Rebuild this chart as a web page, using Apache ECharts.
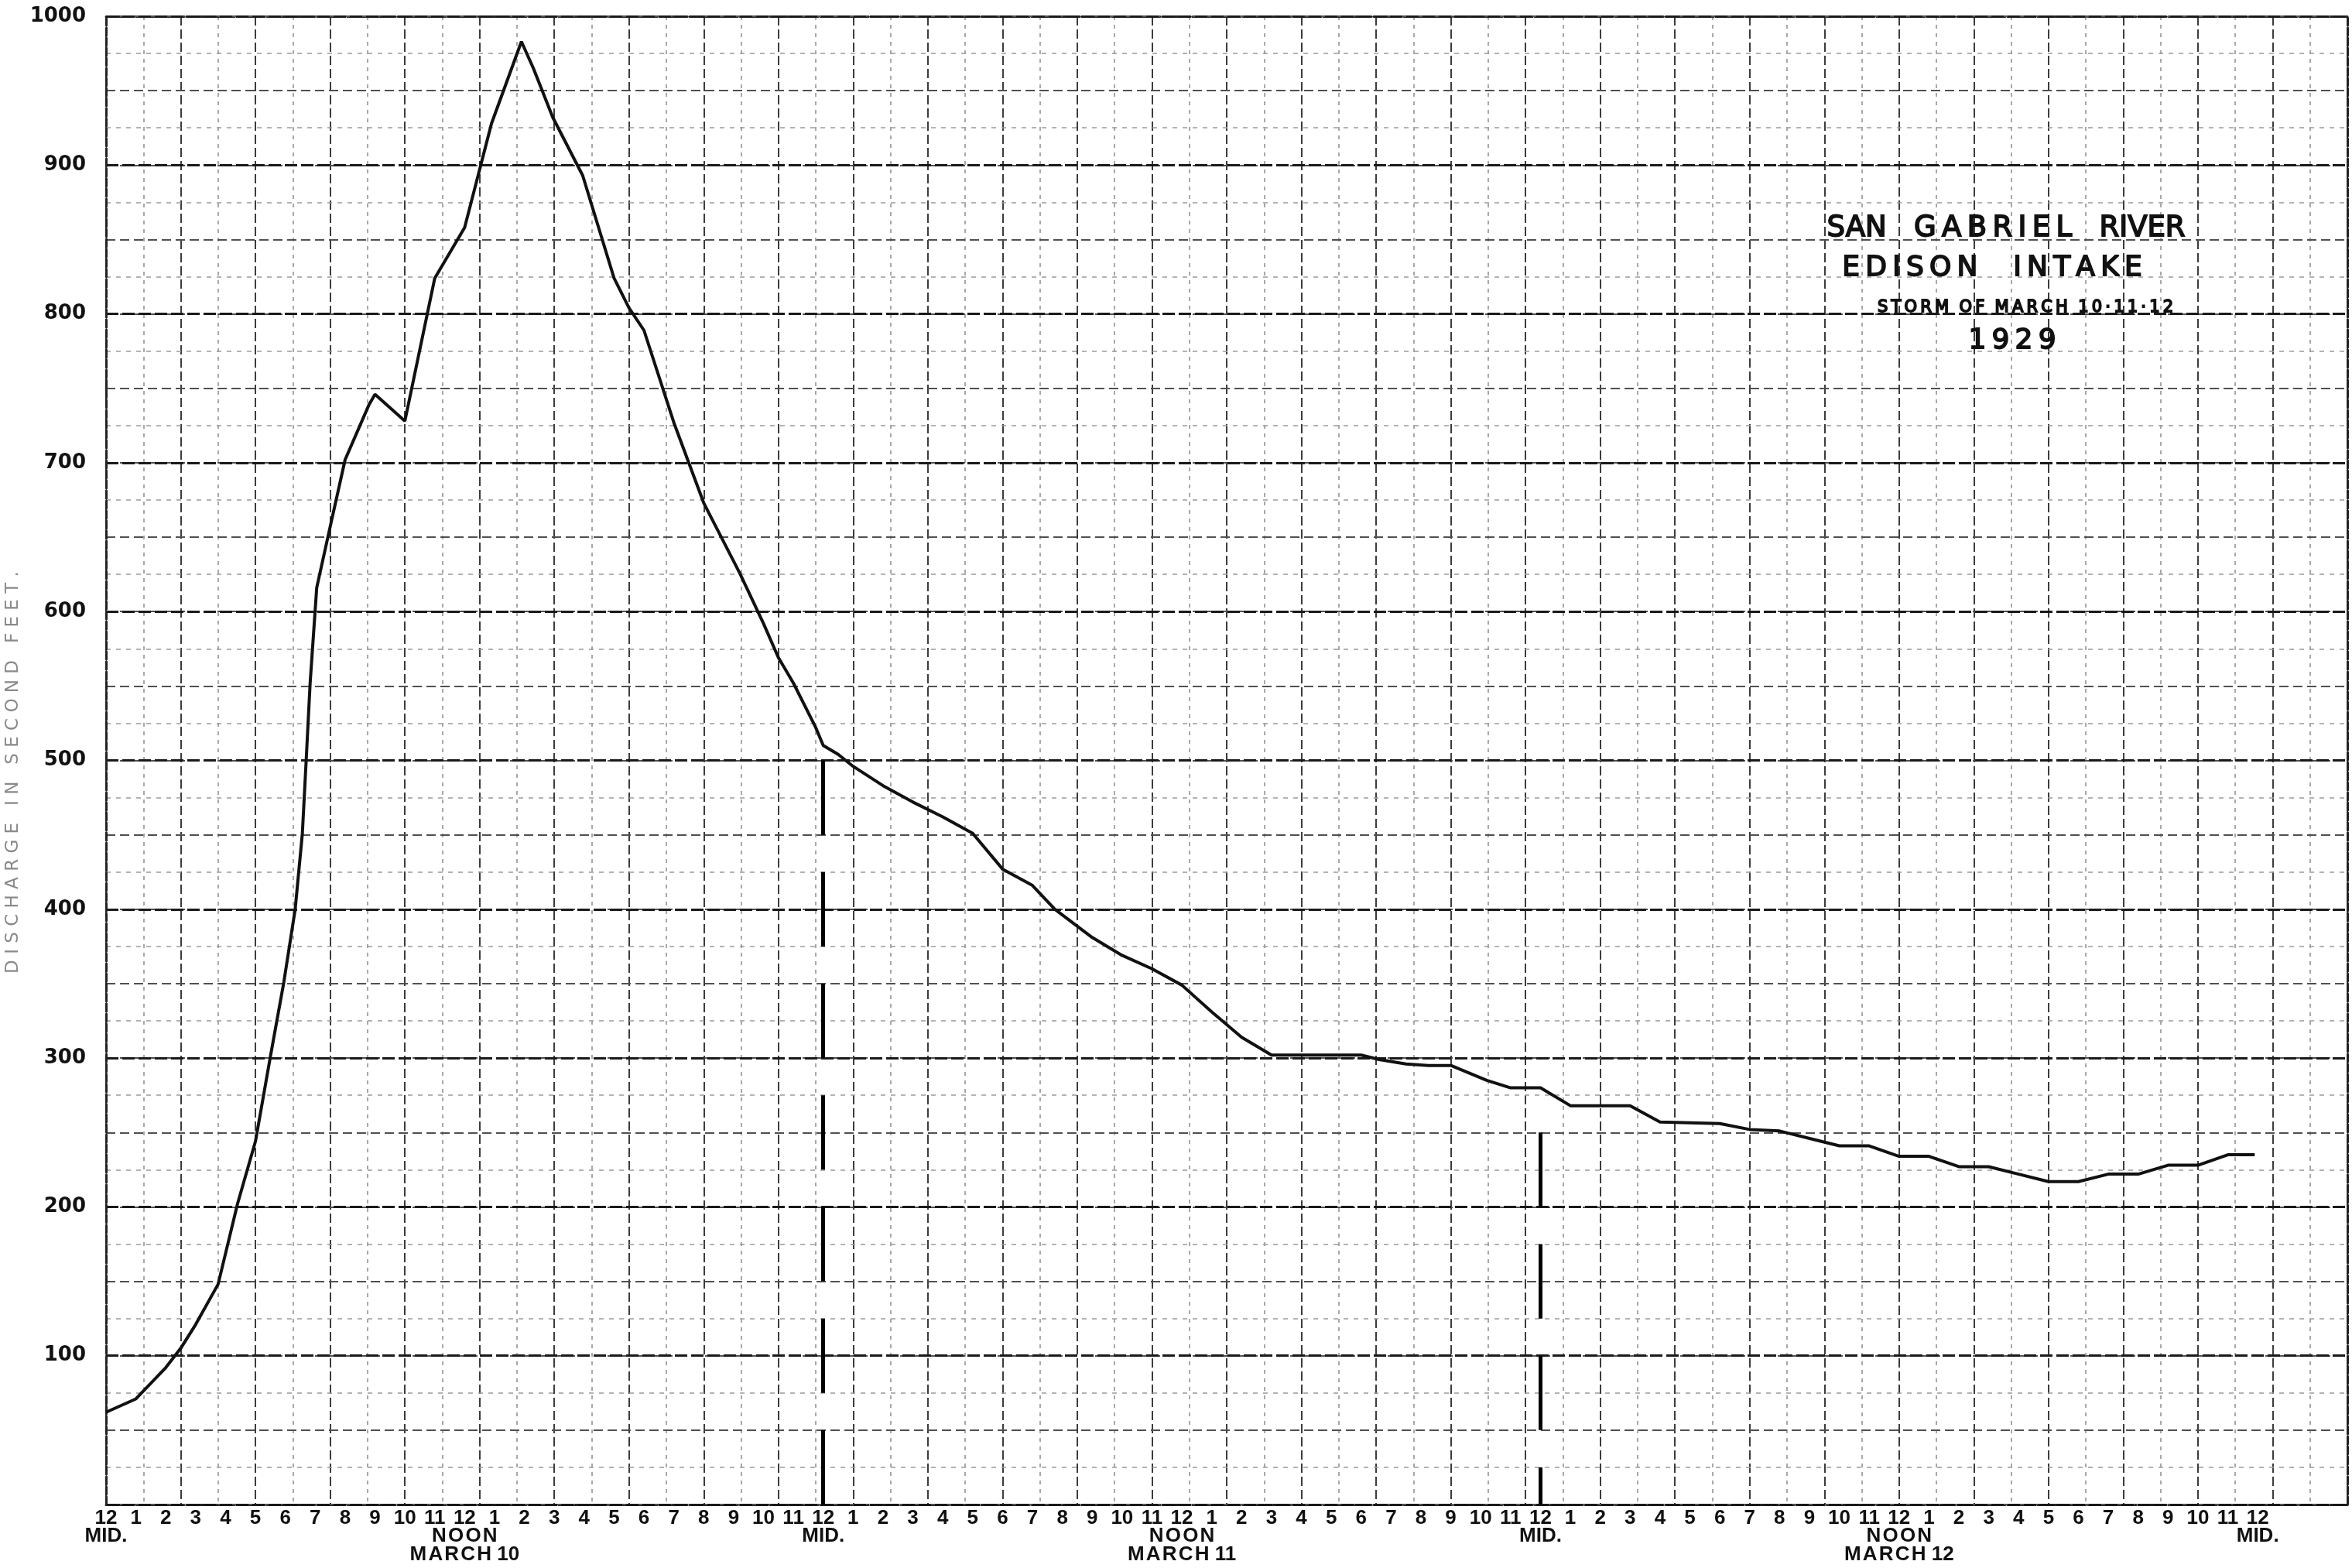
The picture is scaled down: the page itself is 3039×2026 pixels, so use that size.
<!DOCTYPE html>
<html>
<head>
<meta charset="utf-8">
<title>San Gabriel River - Edison Intake - Storm of March 10-11-12, 1929</title>
<script src="https://cdn.jsdelivr.net/npm/echarts@6/dist/echarts.min.js"></script>
<style>
  html, body { margin: 0; padding: 0; background: #fff; }
  #chart { width: 3039px; height: 2026px; }
</style>
</head>
<body>
<div id="chart"></div>
<script>
// hours counted from midnight at the start of March 10, 1929
const hours = [
  0, 1, 2, 2.5, 3, 3.75, 4.4, 5, 5.5, 5.95, 6.33, 6.57, 6.7, 6.83, 7.05, 7.5, 8,
  8.8, 9, 10, 11, 12, 12.9, 13.9, 14.3, 14.95, 15.95, 17, 17.5, 18, 19, 20,
  21.2, 22, 22.5, 23, 23.75, 24, 24.5, 25, 26, 27, 28, 29, 30, 31, 31.75, 33,
  34, 35, 36, 37, 38, 39, 42, 42.6, 43.5, 44.25, 45, 46.2, 47, 48, 49, 51, 52,
  54, 55, 56, 57.4, 58, 59, 60, 61, 62, 63, 64, 65, 66, 67, 68, 69, 70, 71, 71.9
];

// discharge in second feet
const discharge = [
  62, 71, 92, 105, 121, 148, 202, 244, 301, 351, 400, 451, 501, 552, 616, 657, 702,
  739, 746, 728, 824, 858, 928, 983, 965, 932, 893, 824, 804, 789, 727, 673,
  626, 592, 569, 552, 522, 510, 504, 496, 483, 472, 462, 451, 427, 416, 400, 381,
  369, 360, 349, 331, 314, 302, 302, 299, 296, 295, 295, 285, 280, 280, 268, 268, 257,
  256, 252, 251, 244, 241, 241, 234, 234, 227, 227, 222, 217, 217, 222, 222, 228, 228, 235, 235
];

const clockLabels = ["12", "1", "2", "3", "4", "5", "6", "7", "8", "9", "10", "11"];
const noonDays = ["MARCH 10", "MARCH 11", "MARCH 12"];
const midnightHours = [24, 48];
const midnightTops = [500, 250];
const titleLines = ["SAN GABRIEL RIVER", "EDISON INTAKE", "STORM OF MARCH 10·11·12", "1929"];
const yAxisTitle = "DISCHARGE IN SECOND FEET.";

const H = 2026;
const PLOT = { left: 137, top: 21, right: 6, bottom: 82 };
const pxPerUnit = (H - PLOT.top - PLOT.bottom) / 1000;

const THIN = "\u2009";
const HAIR = "\u200A";

function tracked(word, sp) {
  return word.split("").join(sp || THIN);
}

function hourLabel(value) {
  const h = Math.round(value);
  if (Math.abs(value - h) > 1e-6 || h > 72) {
    return "";
  }
  let text = clockLabels[h % 12];
  if (h % 24 === 0) {
    text += "\nMID.";
  } else if (h % 24 === 12) {
    const day = noonDays[Math.floor(h / 24)].split(" ");
    text += "\n" + tracked("NOON", HAIR) + "\n" + tracked(day[0], HAIR) + " " + day[1];
  }
  return text;
}

// title rows: letter tracking per word and the gap between words
const titleLayout = [
  { x: 2592, y: 295, size: 37, track: [null, THIN, null], gap: "   " },
  { x: 2574, y: 347, size: 36, track: [THIN, THIN], gap: "    " },
  { x: 2617, y: 398, size: 21, track: [THIN, THIN, THIN, THIN], gap: "  " },
  { x: 2600, y: 441, size: 36, track: [THIN], gap: " " }
];

const titleGraphics = titleLines.map((line, i) => {
  const cfg = titleLayout[i];
  const text = line
    .split(" ")
    .map((w, j) => (cfg.track[j] ? tracked(w, cfg.track[j]) : w))
    .join(cfg.gap);
  return {
    type: "text",
    x: cfg.x,
    y: cfg.y,
    z: 10,
    style: {
      text,
      fontFamily: "DejaVu Sans",
      fontSize: cfg.size,
      fill: "#111",
      stroke: "#111",
      lineWidth: 1.8,
      textAlign: "center",
      textVerticalAlign: "middle"
    }
  };
});

const yTitleGraphic = {
  type: "text",
  x: 17,
  y: 998,
  rotation: Math.PI / 2,
  style: {
    text: yAxisTitle.split(" ").map((w) => w.split("").join(" ")).join("   "),
    fontFamily: "DejaVu Sans",
    fontSize: 23,
    fill: "#8a8a8a",
    textAlign: "center",
    textVerticalAlign: "middle"
  }
};

const borderStyle = { color: "#222", width: 3, type: [10, 3] };

const option = {
  backgroundColor: "#fff",
  animation: false,
  grid: {
    left: PLOT.left,
    top: PLOT.top,
    right: PLOT.right,
    bottom: PLOT.bottom,
    containLabel: false,
    outerBoundsMode: "none"
  },
  xAxis: [
    {
      type: "value",
      min: 0,
      max: 75,
      interval: 1,
      position: "bottom",
      axisLine: { show: true, onZero: false, lineStyle: borderStyle },
      axisTick: { show: false },
      splitLine: { show: false },
      axisLabel: {
        margin: 6,
        fontFamily: "Liberation Sans",
        fontWeight: "bold",
        fontSize: 26,
        lineHeight: 23.5,
        color: "#111",
        formatter: hourLabel
      }
    },
    {
      type: "value",
      min: 0,
      max: 75,
      interval: 2.5,
      position: "top",
      axisLine: { show: true, onZero: false, lineStyle: borderStyle },
      axisTick: { show: false },
      axisLabel: { show: false },
      splitLine: { show: true, lineStyle: { color: "#3c3c3c", width: 2, type: [12, 5] } },
      minorTick: { show: false, splitNumber: 2 },
      minorSplitLine: { show: true, lineStyle: { color: "#8c8c8c", width: 1.5, type: [5, 6] } }
    }
  ],
  yAxis: [
    {
      type: "value",
      min: 0,
      max: 1000,
      interval: 100,
      position: "left",
      z: 3,
      axisLine: { show: true, onZero: false, lineStyle: borderStyle },
      axisTick: { show: false },
      axisLabel: {
        margin: 26,
        fontFamily: "DejaVu Sans",
        fontWeight: "bold",
        fontSize: 26,
        color: "#111",
        formatter: (v) => (v === 0 ? "" : String(v))
      },
      splitLine: { show: true, lineStyle: { color: "#1a1a1a", width: 3, type: [16, 5] } }
    },
    {
      type: "value",
      min: 0,
      max: 1000,
      interval: 50,
      position: "right",
      z: 1,
      axisLine: { show: true, onZero: false, lineStyle: borderStyle },
      axisTick: { show: false },
      axisLabel: { show: false },
      splitLine: { show: true, lineStyle: { color: "#505050", width: 2, type: [12, 6] } },
      minorTick: { show: false, splitNumber: 2 },
      minorSplitLine: { show: true, lineStyle: { color: "#9a9a9a", width: 1.5, type: [6, 7] } }
    }
  ],
  graphic: [...titleGraphics, yTitleGraphic],
  series: [
    {
      type: "line",
      xAxisIndex: 0,
      yAxisIndex: 0,
      z: 5,
      data: hours.map((h, i) => [h, discharge[i]]),
      showSymbol: false,
      symbol: "none",
      lineStyle: { color: "#111", width: 4 },
      markLine: {
        silent: true,
        symbol: ["none", "none"],
        label: { show: false },
        lineStyle: { color: "#000", width: 5, type: [50 * pxPerUnit, 25 * pxPerUnit] },
        data: midnightHours.map((h, i) => [{ coord: [h, midnightTops[i]] }, { coord: [h, 0] }])
      }
    }
  ]
};

const chart = echarts.init(document.getElementById("chart"), null, { renderer: "canvas" });
chart.setOption(option);
</script>
</body>
</html>
